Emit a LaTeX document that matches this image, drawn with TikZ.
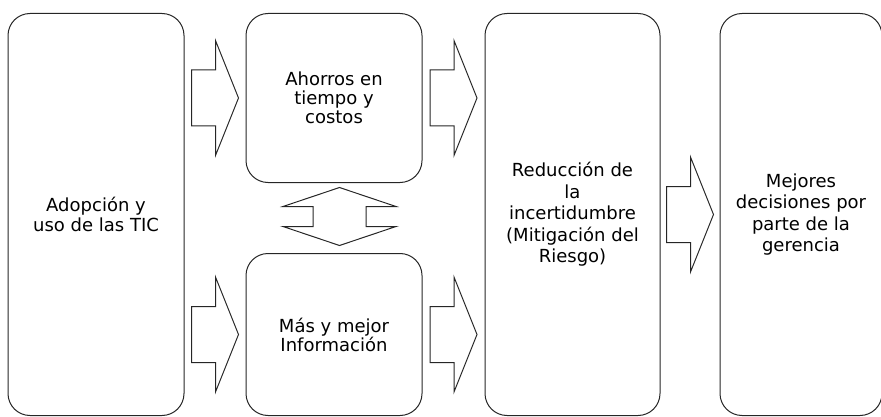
\documentclass[tikz,border=0pt]{standalone}
\usepackage{fontspec}
\setmainfont{DejaVu Sans}
\usetikzlibrary{positioning}
\usetikzlibrary{calc}

% flecha de bloque entre dos cajas, a la altura de #3
\newcommand{\flecha}[3]{%
  \coordinate (m) at ($(#1.east |- #3)!0.5!(#2.west |- #3)$);
  \draw[bloque] ($(m)+(-23.5,-28)$) -- ($(m)+(0.5,-28)$) -- ($(m)+(0.5,-57.5)$) -- ($(m)+(23.5,0)$)
    -- ($(m)+(0.5,57.5)$) -- ($(m)+(0.5,28)$) -- ($(m)+(-23.5,28)$) -- cycle;}

\begin{document}
\begin{tikzpicture}[x=1pt,y=-1pt,every node/.append style={align=center},
    caja/.style={draw=black!85, line width=1pt, rounded corners=22pt, inner sep=0pt,
      font=\fontsize{18}{20}\selectfont},
    bloque/.style={draw=black!85, line width=1pt, line join=miter}]
        \useasboundingbox (0,0) rectangle (881,417);

        \node [caja, minimum width=176pt, minimum height=402pt] (adop) at (96,214.5) {Adopción y\\uso de las TIC};
        \node [caja, minimum width=176pt, minimum height=169pt, below right=0pt and 61pt of adop.north east,
          font=\fontsize{18}{19}\selectfont] (ahorro) {Ahorros en\\tiempo y\\costos};
        \node [caja, minimum width=176pt, minimum height=162pt, above right=0pt and 61pt of adop.south east,
          font=\fontsize{18}{19}\selectfont] (mas) {Más y mejor\\Información};
        \node [caja, minimum width=175pt, minimum height=402pt, below right=0pt and 62pt of ahorro.north east,
          font=\fontsize{18}{21.5}\selectfont] (reduc) {Reducción de\\la\\incertidumbre\\(Mitigación del\\Riesgo)};
        \node [caja, minimum width=162pt, minimum height=402pt, right=59pt of reduc,
          font=\fontsize{18}{21.5}\selectfont] (mejor) {Mejores\\decisiones por\\parte de la\\gerencia};

        \flecha{adop}{ahorro}{ahorro}
        \flecha{adop}{mas}{mas}
        \flecha{ahorro}{reduc}{ahorro}
        \flecha{mas}{reduc}{mas}
        \flecha{reduc}{mejor}{reduc}

        \coordinate (d) at ($(ahorro.south)!0.5!(mas.north)+(5.5,-1.5)$);
        \draw[bloque] ($(d)+(0,-29)$) -- ($(d)+(56.5,-10)$) -- ($(d)+(26.5,-10)$) -- ($(d)+(26.5,10)$)
          -- ($(d)+(56.5,10)$) -- ($(d)+(0,29)$) -- ($(d)+(-56.5,10)$) -- ($(d)+(-26.5,10)$)
          -- ($(d)+(-26.5,-10)$) -- ($(d)+(-56.5,-10)$) -- cycle;
    \end{tikzpicture}
\end{document}
